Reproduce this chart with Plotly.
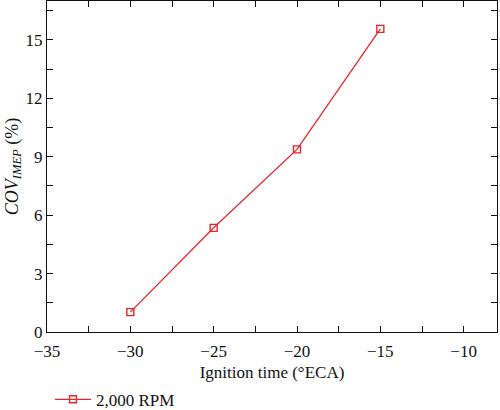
import plotly.graph_objects as go

ignition_time = [-30, -25, -20, -15]
cov_imep = [1.02, 5.35, 9.38, 15.57]
series_name = "2,000 RPM"

x_ticks = [-35, -30, -25, -20, -15, -10]
y_ticks = [0, 3, 6, 9, 12, 15]

red = "#e3262b"
ink = "#111111"
serif = "Liberation Serif"

fig = go.Figure()
fig.add_trace(go.Scatter(
    x=ignition_time,
    y=cov_imep,
    mode="lines+markers",
    name=series_name,
    line=dict(color=red, width=1.3),
    marker=dict(symbol="square-open", size=7, color=red, line=dict(width=1.4)),
))

# ticks point into the plot on all four sides
axis_common = dict(
    showgrid=False,
    zeroline=False,
    showline=True,
    mirror="allticks",
    linecolor=ink,
    linewidth=1.3,
    ticks="inside",
    ticklen=6,
    tickwidth=1.2,
    tickcolor=ink,
    automargin=False,
    tickfont=dict(family=serif, size=17, color=ink),
)
minor_common = dict(ticks="inside", ticklen=6, tickwidth=1.2, tickcolor=ink)

fig.update_layout(
    width=500,
    height=410,
    margin=dict(l=47, r=3, t=1, b=78, autoexpand=False),
    paper_bgcolor="white",
    plot_bgcolor="white",
    font=dict(family=serif, size=16, color=ink),
    showlegend=True,
    legend=dict(
        orientation="h",
        xref="container", x=0.1, xanchor="left",
        yref="container", y=0.025, yanchor="middle",
        itemwidth=36,
        font=dict(family=serif, size=17, color=ink),
        bgcolor="rgba(0,0,0,0)",
    ),
    xaxis=dict(
        **axis_common,
        range=[-35, -8],
        tickvals=x_ticks,
        ticktext=["\u2212" + str(abs(v)) for v in x_ticks],
        ticklabelstandoff=3,
        minor=dict(dtick=2.5, **minor_common),
        title=dict(text="Ignition time (°ECA)", standoff=14,
                   font=dict(family=serif, size=17, color=ink)),
    ),
    yaxis=dict(
        **axis_common,
        range=[0, 17],
        tickvals=y_ticks,
        ticklabelstandoff=0,
        minor=dict(dtick=1.5, **minor_common),
        title=dict(text="<i>COV</i><sub><i>IMEP</i></sub> (%)", standoff=2,
                   font=dict(family=serif, size=18, color=ink)),
    ),
)

# the page body has an 8px default margin; drop it so the figure sits at 0,0
fig.write_html("out.html", config={"displayModeBar": False},
               post_script="document.body.style.margin='0px';")
